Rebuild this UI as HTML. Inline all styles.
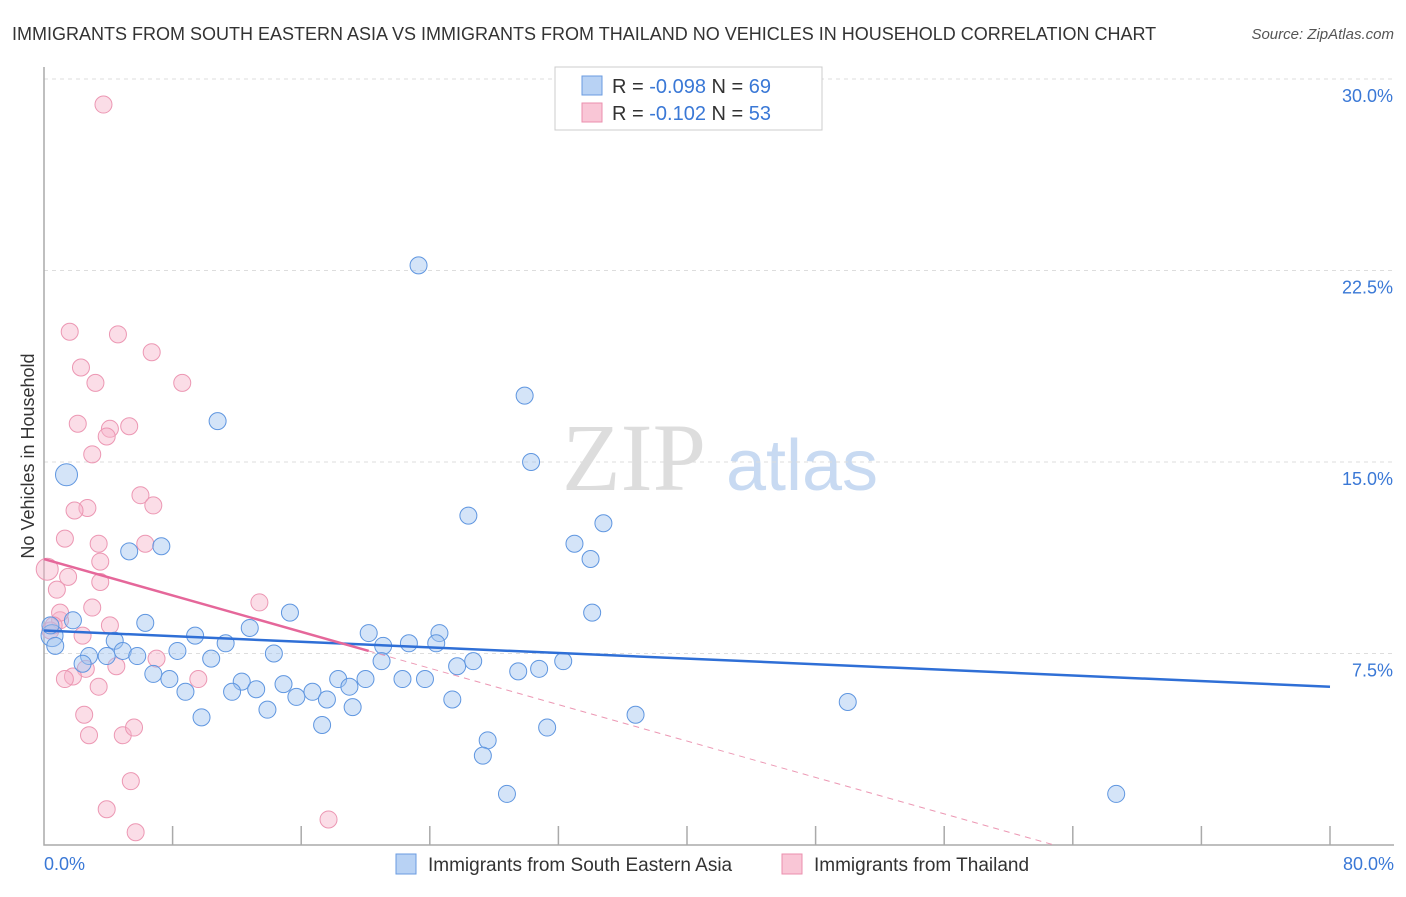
<!DOCTYPE html>
<html><head><meta charset="utf-8"><style>
body{margin:0;background:#fff;font-family:"Liberation Sans",sans-serif;}
</style></head><body>
<svg id="chart" width="1406" height="892" xmlns="http://www.w3.org/2000/svg" style="font-family:'Liberation Sans',sans-serif">
<text x="12" y="40" font-size="18" fill="#333">IMMIGRANTS FROM SOUTH EASTERN ASIA VS IMMIGRANTS FROM THAILAND NO VEHICLES IN HOUSEHOLD CORRELATION CHART</text>
<text x="1394" y="39" font-size="15" fill="#555" text-anchor="end" font-style="italic">Source: ZipAtlas.com</text>
<g>
<text x="634" y="490" font-size="96" fill="#ddd" text-anchor="middle" font-family="Liberation Serif,serif">ZIP</text>
<text x="802" y="490" font-size="72" fill="#c8daf2" text-anchor="middle">atlas</text>
</g>
<g id="grid"></g><g id="axes"></g><g id="marks"></g>
<text transform="translate(34,456) rotate(-90)" font-size="18" fill="#333" text-anchor="middle">No Vehicles in Household</text>
<g>
<rect x="555" y="67" width="267" height="63" fill="#fff" stroke="#ccc"/>
<rect x="582" y="76" width="20" height="19" fill="#b8d2f4" stroke="#6a9be0"/>
<rect x="582" y="103" width="20" height="19" fill="#f9c6d6" stroke="#eb8fae"/>
<text x="612" y="93" font-size="20" fill="#333">R = <tspan fill="#3a78d6">-0.098</tspan>   N = <tspan fill="#3a78d6">69</tspan></text>
<text x="612" y="120" font-size="20" fill="#333">R =  <tspan fill="#3a78d6">-0.102</tspan>   N = <tspan fill="#3a78d6">53</tspan></text>
</g>
<g>
<rect x="396" y="854" width="20" height="20" fill="#b8d2f4" stroke="#6a9be0"/>
<text x="428" y="871" font-size="19" fill="#333">Immigrants from South Eastern Asia</text>
<rect x="782" y="854" width="20" height="20" fill="#f9c6d6" stroke="#eb8fae"/>
<text x="814" y="871" font-size="19" fill="#333">Immigrants from Thailand</text>
</g>
</svg>
<script>
const yTicks=[7.5,15.0,22.5,30.0];
const xTickLabels=["0.0%","80.0%"];
const blueX=[23.3,29.9,30.3,10.8,1.4,26.4,34.8,33.0,34.0,5.3,7.3,34.1,15.3,6.3,1.8,12.8,9.4,4.4,20.2,24.6,22.7,21.1,24.4,11.3,2.8,3.9,4.9,5.8,8.3,14.3,10.4,2.4,6.8,7.8,12.3,8.8,11.7,13.2,14.9,15.7,16.7,17.6,18.3,19.0,20.0,21.0,22.3,23.7,25.7,26.7,29.5,30.8,32.3,25.4,19.2,13.9,9.8,17.3,31.3,36.8,50.0,27.6,27.3,28.8,66.7,0.5,0.4,0.7];
const blueY=[22.7,17.6,15.0,16.6,14.5,12.9,12.6,11.8,11.2,11.5,11.7,9.1,9.1,8.7,8.8,8.5,8.2,8.0,8.3,8.3,7.9,7.8,7.9,7.9,7.4,7.4,7.6,7.4,7.6,7.5,7.3,7.1,6.7,6.5,6.4,6.0,6.0,6.1,6.3,5.8,6.0,5.7,6.5,6.2,6.5,7.2,6.5,6.5,7.0,7.2,6.8,6.9,7.2,5.7,5.4,5.3,5.0,4.7,4.6,5.1,5.6,4.1,3.5,2.0,2.0,8.2,8.6,7.8];
const pinkX=[3.7,1.6,4.6,6.7,2.3,3.2,8.6,2.1,5.3,4.1,3.9,3.0,6.0,6.8,2.7,1.9,1.3,6.3,3.4,3.5,0.2,1.5,3.5,0.8,13.4,3.0,4.1,1.0,0.4,2.4,7.0,4.5,2.6,1.8,1.3,3.4,9.6,2.5,2.8,4.9,5.6,5.4,3.9,5.7,17.7,1.0,0.6];
const pinkY=[29.0,20.1,20.0,19.3,18.7,18.1,18.1,16.5,16.4,16.3,16.0,15.3,13.7,13.3,13.2,13.1,12.0,11.8,11.8,11.1,10.8,10.5,10.3,10.0,9.5,9.3,8.6,8.8,8.4,8.2,7.3,7.0,6.9,6.6,6.5,6.2,6.5,5.1,4.3,4.3,4.6,2.5,1.4,0.5,1.0,9.1,8.6];
const blueTrend=[8.4,6.2];
const pinkTrend=[11.2,7.6,20.2];
const NS="http://www.w3.org/2000/svg";
const xs=v=>44+v/80*1286, ys=v=>845-v/7.5*191.5;
function mk(tag,at,parent){const e=document.createElementNS(NS,tag);for(const k in at)e.setAttribute(k,at[k]);document.getElementById(parent).appendChild(e);return e;}
yTicks.forEach(t=>{
 const g=mk('line',{x1:44,x2:1394,y1:ys(t),y2:ys(t),stroke:'#ddd','stroke-dasharray':'4,4'},'grid');
 
 
 const l=mk('text',{x:1393,y:ys(t)+23,'font-size':18,fill:'#3a78d6','text-anchor':'end'},'axes');
 l.textContent=t.toFixed(1)+'%';
 
 
});
const ax=mk('path',{d:'M44,67 V845 H1394',stroke:'#aaa',fill:'none','stroke-width':1.5},'axes');


for(let i=1;i<=10;i++){const t=mk('line',{x1:xs(i*8),x2:xs(i*8),y1:826,y2:845,stroke:'#aaa','stroke-width':1.5},'axes');
 
 }
[[0,'start',44],[1,'end',1394]].forEach(([i,a,x])=>{const l=mk('text',{x:x,y:870,'font-size':18,fill:'#3a78d6','text-anchor':a},'axes');l.textContent=xTickLabels[i];
 
 });
pinkX.forEach((x,i)=>{const c=mk('circle',{cx:xs(x),cy:ys(pinkY[i]),r:(x<0.3?11:8.5),fill:'rgba(246,180,202,0.45)',stroke:'#ec97b3','stroke-width':1},'marks');
 
 });
blueX.forEach((x,i)=>{const c=mk('circle',{cx:xs(x),cy:ys(blueY[i]),r:(i==4||i==65?11:8.5),fill:'rgba(160,196,240,0.45)',stroke:'#5f96e0','stroke-width':1},'marks');
 
 });
const bl=mk('line',{x1:xs(0),y1:ys(blueTrend[0]),x2:xs(80),y2:ys(blueTrend[1]),stroke:'#2f6fd6','stroke-width':2.5},'marks');


const slope=(pinkTrend[0]-pinkTrend[1])/pinkTrend[2];
const x0=pinkTrend[0]/slope;
const pd=mk('line',{x1:xs(pinkTrend[2]),y1:ys(pinkTrend[1]),x2:xs(x0),y2:ys(0),stroke:'#ec97b3','stroke-width':1,'stroke-dasharray':'6,5'},'marks');


const pl=mk('line',{x1:xs(0),y1:ys(pinkTrend[0]),x2:xs(pinkTrend[2]),y2:ys(pinkTrend[1]),stroke:'#e5679a','stroke-width':2.5},'marks');


</script>
</body></html>
